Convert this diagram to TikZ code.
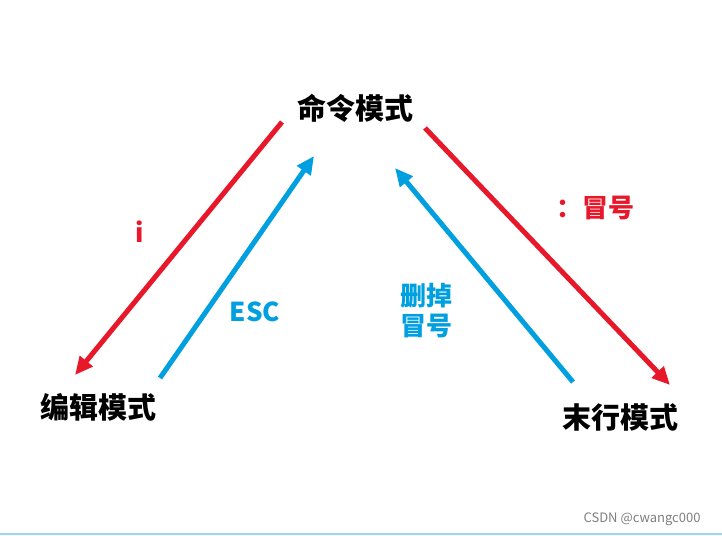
\documentclass[tikz,border=0pt]{standalone}
\usepackage{fontspec}
\newfontfamily\cjk{Noto Sans CJK SC}
\setmainfont{Noto Sans CJK SC}
\usetikzlibrary{arrows.meta}
\definecolor{rd}{HTML}{E8182B}
\definecolor{bl}{HTML}{00A0E0}
\begin{document}
\begin{tikzpicture}[x=0.5pt,y=-0.5pt,
  mode/.style={font=\cjk\bfseries\fontsize{14.5}{16}\selectfont,inner sep=0},
  lab/.style={font=\cjk\bfseries\fontsize{13}{15}\selectfont,inner sep=0,align=center},
  arr/.style={line width=2.5pt,-{Triangle[length=9pt,width=8pt]}}]
\useasboundingbox[fill=white] (0,0) rectangle (722,535);
\node[mode] (cmd) at (355,108) {命令模式};
\node[mode] (edit) at (98,407) {编辑模式};
\node[mode] (last) at (620,417) {末行模式};
\coordinate (a1) at (282,122); \coordinate (a2) at (75,375);
\coordinate (b1) at (160,378); \coordinate (b2) at (314,156);
\coordinate (c1) at (573,382); \coordinate (c2) at (395,168);
\coordinate (d1) at (425,128); \coordinate (d2) at (670,385);
\draw[arr,rd] (a1) -- (a2);
\draw[arr,bl] (b1) -- (b2);
\draw[arr,bl] (c1) -- (c2);
\draw[arr,rd] (d1) -- (d2);
\node[lab,text=rd] (li) at (140,232) {i};
\node[lab,text=bl] (lesc) at (255,312) {ESC};
\node[lab,text=bl] (ldel) at (426,311) {删掉\\冒号};
\node[lab,text=rd] (lcol) at (595,208) {：冒号};
\node[font=\fontsize{6.5}{8}\selectfont,text=gray] (wm) at (642,519) {CSDN @cwangc000};
\draw[bl!40,line width=1pt] (0,534) -- (722,534);
\end{tikzpicture}
\end{document}
